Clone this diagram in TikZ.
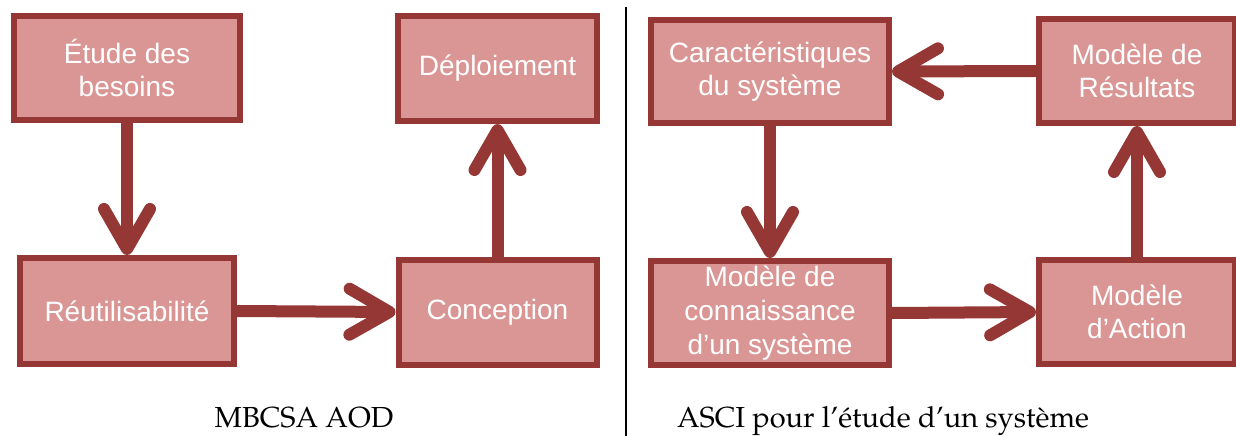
\documentclass[tikz,border=0pt]{standalone}
\usepackage[T1]{fontenc}
\usepackage{fontspec}
\newfontfamily\boxfont{Liberation Sans}
\usetikzlibrary{arrows.meta}
\definecolor{boxfill}{HTML}{D99694}
\definecolor{boxline}{HTML}{953735}
\tikzset{
  bx/.style={draw=boxline, fill=boxfill, line width=6pt, inner sep=0pt,
    align=center, text=white, font=\boxfont\fontsize{28}{33.6}\selectfont},
  conn/.style={draw=boxline, line width=12pt,
    -{Straight Barb[length=40pt,width=46pt,round]}},
  captext/.style={anchor=base, inner sep=0pt,
    font=\fontencoding{T1}\fontfamily{ppl}\fontsize{29}{34}\selectfont}
}
\begin{document}
\begin{tikzpicture}[x=1pt,y=-1pt]
\useasboundingbox (0,0) rectangle (1236,436);
\begin{scope}
\clip (0,0) rectangle (1236,436);
% left panel
\node[bx, minimum width=226pt, minimum height=104pt] (etude) at (127,68) {Étude des\\besoins};
\node[bx, minimum width=199pt, minimum height=105pt] (deploi) at (497.5,68.5) {Déploiement};
\node[bx, minimum width=214pt, minimum height=106pt] (reutil) at (127,311) {Réutilisabilité};
\node[bx, minimum width=198pt, minimum height=105pt] (concep) at (497.5,312) {Conception};
% right panel
\node[bx, minimum width=238pt, minimum height=103pt] (caract) at (770,71.5) {Caractéristiques\\du système};
\node[bx, minimum width=196pt, minimum height=104pt] (result) at (1137,71) {Modèle de\\Résultats};
\node[bx, minimum width=238pt, minimum height=104pt] (connais) at (770,313) {Modèle de\\connaissance\\d’un système};
\node[bx, minimum width=196pt, minimum height=104pt] (action) at (1137,312) {Modèle\\d’Action};
% connectors
\draw[conn] (etude.south) -- (reutil.north);
\draw[conn] (reutil.east) -- (concep.west);
\draw[conn] (concep.north) -- (deploi.south);
\draw[conn] (result.west) -- (caract.east);
\draw[conn] (caract.south) -- (connais.north);
\draw[conn] (connais.east) -- (action.west);
\draw[conn] (action.north) -- (result.south);
% divider
\coordinate (dtop) at (626,7);
\coordinate (dbot) at (626,436);
\draw[line width=1.2pt, black] (dtop) -- (dbot);
% captions
\node[captext] (c1) at (304,427) {MBCSA AOD};
\node[captext] (c2) at (883,427) {ASCI pour l'étude d'un système};
\end{scope}
\end{tikzpicture}
\end{document}
